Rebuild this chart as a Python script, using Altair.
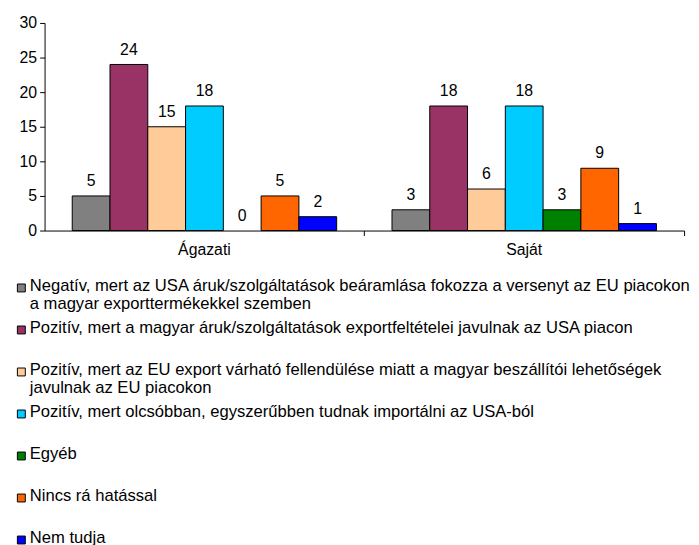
import altair as alt
import pandas as pd

groups = ["Ágazati", "Saját"]
series = [
    "Negatív, mert az USA áruk/szolgáltatások beáramlása fokozza a versenyt az EU piacokon\na magyar exporttermékekkel szemben",
    "Pozitív, mert a magyar áruk/szolgáltatások exportfeltételei javulnak az USA piacon\n ",
    "Pozitív, mert az EU export várható fellendülése miatt a magyar beszállítói lehetőségek\njavulnak az EU piacokon",
    "Pozitív, mert olcsóbban, egyszerűbben tudnak importálni az USA-ból\n ",
    "Egyéb\n ",
    "Nincs rá hatással\n ",
    "Nem tudja\n ",
]
colors = ["#808080", "#993366", "#FFCC99", "#00CCFF", "#008000", "#FF6600", "#0000FF"]
agazati = [5, 24, 15, 18, 0, 5, 2]
sajat = [3, 18, 6, 18, 3, 9, 1]

rows = []
for s, a, b in zip(series, agazati, sajat):
    rows.append({"group": "Ágazati", "series": s, "value": a})
    rows.append({"group": "Saját", "series": s, "value": b})
df = pd.DataFrame(rows)

FONT = "Liberation Sans"

# square legend swatch, placed beside the first label line
SWATCH = "M0,-0.3H1V0.7H0Z"

xscale = alt.Scale(paddingInner=0.173, paddingOuter=0.0865)
xoff = alt.XOffset("series:N", sort=series, scale=alt.Scale(paddingInner=0, paddingOuter=0))
yaxis = alt.Axis(values=[0, 5, 10, 15, 20, 25, 30], title=None, grid=False,
                 tickSize=5, tickColor="black", domainColor="black",
                 labelFontSize=16, labelPadding=3, labelOverlap=False)
yenc = alt.Y("value:Q", scale=alt.Scale(domain=[0, 30]), axis=yaxis)

bars = alt.Chart(df).mark_bar(stroke="black", strokeWidth=1).encode(
    x=alt.X("group:N", sort=groups, scale=xscale, title=None,
            axis=alt.Axis(labelAngle=0, ticks=False, domainColor="black",
                          labelFontSize=16, labelPadding=11)),
    xOffset=xoff,
    y=yenc,
    color=alt.Color("series:N", sort=series,
                    scale=alt.Scale(domain=series, range=colors),
                    legend=alt.Legend(title=None, orient="none", legendX=-36, legendY=258,
                                      direction="vertical", labelExpr="split(datum.label, '\\n')",
                                      labelLimit=800, labelFontSize=16.8, labelFont=FONT,
                                      symbolType=SWATCH, symbolSize=256, symbolStrokeColor="black",
                                      symbolStrokeWidth=1, symbolOpacity=1, rowPadding=7.5,
                                      labelBaseline="middle", padding=0, labelOffset=4)),
    strokeOpacity=alt.condition("datum.value > 0", alt.value(1), alt.value(0)),
)

text = alt.Chart(df).mark_text(baseline="bottom", dy=-7, fontSize=16, font=FONT, color="black").encode(
    x=alt.X("group:N", sort=groups, scale=xscale, title=None,
            axis=alt.Axis(orient="bottom", labels=False, ticks=True, tickSize=5, tickColor="black",
                          bandPosition=1.105, domain=False)),
    xOffset=xoff,
    y=yenc,
    text=alt.Text("value:Q"),
)

chart = alt.layer(bars, text).resolve_axis(x="independent").properties(
    width=647, height=210,
    padding={"left": 37, "top": 12, "right": 7, "bottom": 315},
    autosize="none",
).configure(
    style={"guide-label": {"lineHeight": 17.5}},
    view={"stroke": "transparent"},
    axis={"labelFont": FONT, "labelColor": "black"},
)

chart.save("out.html", embed_options={"renderer": "svg", "actions": False})
